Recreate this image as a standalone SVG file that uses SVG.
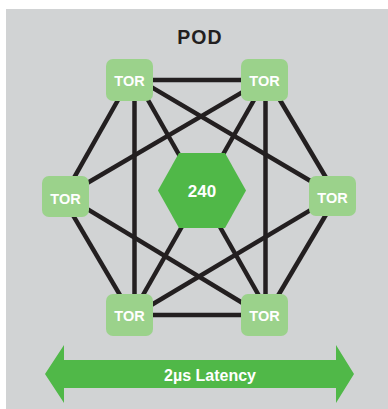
<svg xmlns="http://www.w3.org/2000/svg" width="388" height="409" viewBox="0 0 388 409">
  <style>
    .tor rect { fill: #9bd28b; }
    .lbl { font-family: "Liberation Sans", Arial, sans-serif; font-weight: bold; fill: #ffffff; text-anchor: middle; }
    .tor text { font-size: 14.5px; }
    #connectors line { stroke: #231f20; stroke-width: 4.5; stroke-linecap: butt; }
  </style>
  <rect x="0" y="0" width="388" height="409" fill="#ffffff"/>
  <rect x="6" y="9" width="382" height="400" fill="#d1d3d4"/>
  <text x="200" y="43.5" font-family="Liberation Sans, Arial, sans-serif" font-weight="bold" font-size="19.5" letter-spacing="1" fill="#231f20" text-anchor="middle">POD</text>

  <g id="connectors">
    <line x1="150" y1="80" x2="245" y2="80"/>
    <line x1="130" y1="315" x2="265" y2="315"/>
    <line x1="134.5" y1="95" x2="134.5" y2="300"/>
    <line x1="265.5" y1="95" x2="265.5" y2="300"/>
    <line x1="121.4" y1="94" x2="72" y2="181.3"/>
    <line x1="276.7" y1="94.5" x2="328" y2="181"/>
    <line x1="144.6" y1="94" x2="261.4" y2="300"/>
    <line x1="257.4" y1="94" x2="139.6" y2="301"/>
    <line x1="143" y1="82.1" x2="319" y2="186"/>
    <line x1="251" y1="87.1" x2="80" y2="187.3"/>
    <line x1="70" y1="210.2" x2="124" y2="301.8"/>
    <line x1="329.3" y1="209" x2="275.5" y2="300"/>
    <line x1="80" y1="204.6" x2="250" y2="307.5"/>
    <line x1="318" y1="205.6" x2="145" y2="308.8"/>
  </g>

  <g id="hub">
    <polygon points="179,153 225,153 246,190.5 225,228 179,228 158,190.5" fill="#50b848"/>
    <text class="lbl" x="202" y="197" font-size="17">240</text>
  </g>

  <g id="tor-tl" class="tor">
    <rect x="106" y="59" width="47" height="42" rx="7"/>
    <text class="lbl" x="129.5" y="85.5">TOR</text>
  </g>
  <g id="tor-tr" class="tor">
    <rect x="241" y="59" width="47" height="42" rx="7"/>
    <text class="lbl" x="264.5" y="85.5">TOR</text>
  </g>
  <g id="tor-l" class="tor">
    <rect x="42" y="176" width="47" height="41" rx="7"/>
    <text class="lbl" x="65.5" y="203.5">TOR</text>
  </g>
  <g id="tor-r" class="tor">
    <rect x="309" y="176" width="47" height="40" rx="7"/>
    <text class="lbl" x="332.5" y="203">TOR</text>
  </g>
  <g id="tor-bl" class="tor">
    <rect x="106" y="294" width="47" height="42" rx="7"/>
    <text class="lbl" x="129.5" y="320.5">TOR</text>
  </g>
  <g id="tor-br" class="tor">
    <rect x="241" y="294" width="47" height="42" rx="7"/>
    <text class="lbl" x="264.5" y="320.5">TOR</text>
  </g>

  <g id="latency">
    <polygon points="45,374 64,345 64,360 336,360 336,345 354,374 336,403 336,388 64,388 64,403" fill="#50b848"/>
    <text class="lbl" x="210" y="381" font-size="16">2µs Latency</text>
  </g>
</svg>
